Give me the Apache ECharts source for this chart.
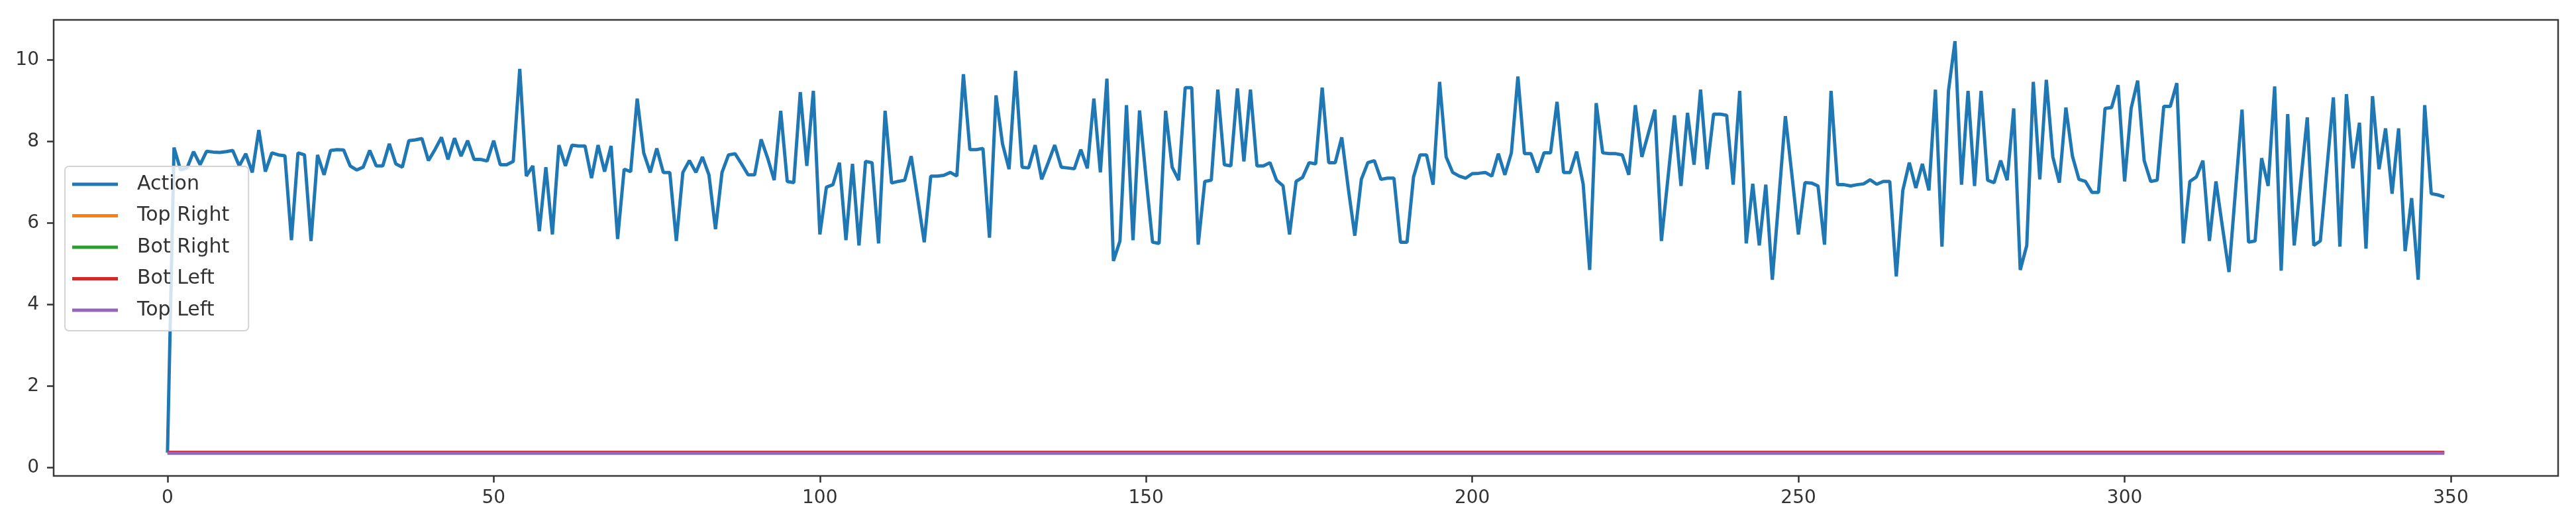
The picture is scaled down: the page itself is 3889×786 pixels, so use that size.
<!DOCTYPE html>
<html>
<head>
<meta charset="utf-8">
<script src="https://cdn.jsdelivr.net/npm/echarts@6/dist/echarts.min.js"></script>
<style>
  html, body { margin: 0; padding: 0; background: #ffffff; }
  #c { width: 3889px; height: 786px; }
</style>
</head>
<body>
<div id="c"></div>
<script>
// ---- data ----
const seriesNames = ['Action', 'Top Right', 'Bot Right', 'Bot Left', 'Top Left'];
const xTicks = [0, 50, 100, 150, 200, 250, 300, 350];
const yTicks = [0, 2, 4, 6, 8, 10];

const action = [
  0.37,7.85,7.3,7.35,7.75,7.43,7.76,7.74,7.73,7.75,
  7.78,7.40,7.70,7.24,8.28,7.26,7.72,7.67,7.65,5.58,
  7.72,7.67,5.56,7.67,7.18,7.78,7.80,7.79,7.40,7.30,
  7.37,7.78,7.40,7.40,7.94,7.45,7.37,8.02,8.04,8.07,
  7.53,7.80,8.10,7.56,8.08,7.64,8.02,7.56,7.56,7.52,
  8.02,7.43,7.43,7.51,9.78,7.15,7.40,5.80,7.37,5.72,
  7.91,7.40,7.91,7.89,7.89,7.10,7.91,7.26,7.89,5.61,
  7.32,7.26,9.05,7.72,7.24,7.83,7.24,7.24,5.56,7.24,
  7.53,7.24,7.62,7.18,5.85,7.24,7.67,7.70,7.45,7.18,
  7.18,8.05,7.59,7.05,8.75,7.02,6.99,9.21,7.40,9.24,
  5.72,6.88,6.94,7.48,5.58,7.45,5.45,7.51,7.48,5.50,
  8.75,6.98,7.02,7.05,7.64,6.60,5.53,7.15,7.15,7.17,
  7.24,7.15,9.65,7.80,7.80,7.83,5.64,9.13,7.94,7.32,
  9.73,7.37,7.35,7.91,7.07,7.48,7.91,7.37,7.35,7.33,
  7.80,7.34,9.05,7.24,9.54,5.07,5.56,8.89,5.58,8.76,
  7.10,5.53,5.50,8.75,7.37,7.05,9.32,9.32,5.47,7.02,
  7.05,9.27,7.43,7.40,9.30,7.51,9.27,7.40,7.40,7.48,
  7.05,6.91,5.72,7.02,7.12,7.48,7.45,9.32,7.48,7.48,
  8.10,6.85,5.69,7.07,7.48,7.53,7.07,7.10,7.10,5.53,
  5.53,7.13,7.67,7.67,6.94,9.46,7.62,7.24,7.15,7.10,
  7.21,7.22,7.24,7.15,7.70,7.18,7.72,9.59,7.70,7.70,
  7.24,7.72,7.72,8.97,7.24,7.24,7.75,6.96,4.85,8.94,
  7.72,7.70,7.70,7.67,7.18,8.89,7.62,8.20,8.78,5.56,
  7.10,8.64,6.91,8.70,7.43,9.27,7.32,8.67,8.67,8.64,
  6.94,9.24,5.50,6.96,5.45,6.94,4.61,6.60,8.62,7.18,
  5.72,6.99,6.98,6.91,5.47,9.24,6.94,6.94,6.91,6.94,
  6.96,7.06,6.95,7.02,7.02,4.69,6.80,7.48,6.86,7.45,
  6.80,9.27,5.42,9.24,10.46,6.94,9.24,6.91,9.24,7.05,
  6.99,7.53,7.05,8.81,4.85,5.45,9.46,7.07,9.51,7.62,
  6.99,8.83,7.64,7.07,7.02,6.75,6.75,8.81,8.83,9.38,
  7.02,8.81,9.49,7.53,7.02,7.05,8.86,8.86,9.43,5.50,
  7.02,7.13,7.53,5.56,7.02,5.90,4.80,6.80,8.78,5.53,
  5.56,7.59,6.91,9.35,4.83,8.67,5.45,7.02,8.59,5.45,
  5.56,7.32,9.08,5.42,9.16,7.34,8.46,5.37,9.11,7.32,
  8.32,6.72,8.32,5.31,6.61,4.61,8.89,6.72,6.69,6.64
];

// the four corner series are flat lines near 0.36; sampled at these steps
const flatSteps = [0, 50, 100, 150, 200, 250, 300, 349];
const topRight = [0.37, 0.37, 0.37, 0.37, 0.37, 0.37, 0.37, 0.37];
const botRight = [0.37, 0.37, 0.37, 0.37, 0.37, 0.37, 0.37, 0.37];
const botLeft  = [0.375, 0.375, 0.375, 0.375, 0.375, 0.375, 0.375, 0.375];
const topLeft  = [0.355, 0.355, 0.355, 0.355, 0.355, 0.355, 0.355, 0.355];

// ---- chart ----
const colors = ['#1f77b4', '#ff7f0e', '#2ca02c', '#d62728', '#9467bd'];
const axisColor = '#333333';
const font = 'DejaVu Sans';

const actionData = action.map((v, i) => [i, v]);
const pairs = arr => flatSteps.map((s, k) => [s, arr[k]]);
const allData = [actionData, pairs(topRight), pairs(botRight), pairs(botLeft), pairs(topLeft)];

const chart = echarts.init(document.getElementById('c'), null, { renderer: 'canvas' });
chart.setOption({
  animation: false,
  backgroundColor: '#ffffff',
  color: colors,
  grid: {
    left: 81, top: 30, right: 27, bottom: 68,
    show: true, borderColor: '#3a3a3a', borderWidth: 2.5, backgroundColor: 'transparent'
  },
  legend: {
    data: seriesNames,
    orient: 'vertical',
    left: 98, top: 251,
    icon: 'rect',
    itemWidth: 69, itemHeight: 5,
    itemGap: 17.5,
    padding: [12, 29, 16, 11],
    backgroundColor: 'rgba(255,255,255,0.8)',
    borderColor: '#d4d4d4', borderWidth: 2, borderRadius: 6,
    textStyle: { fontFamily: font, fontSize: 30, color: axisColor, lineHeight: 30, padding: [0, 0, 0, 24] }
  },
  xAxis: {
    type: 'value', min: -17.45, max: 366.45,
    axisLine: { show: false, onZero: false },
    splitLine: { show: false },
    axisTick: { show: true, customValues: xTicks, length: 10, lineStyle: { color: axisColor, width: 2.5 } },
    axisLabel: { customValues: xTicks, fontFamily: font, fontSize: 28, color: axisColor, margin: 20 }
  },
  yAxis: {
    type: 'value', min: -0.2, max: 10.98,
    axisLine: { show: false, onZero: false },
    splitLine: { show: false },
    axisTick: { show: true, customValues: yTicks, length: 10, lineStyle: { color: axisColor, width: 2.5 } },
    axisLabel: { customValues: yTicks, fontFamily: font, fontSize: 28, color: axisColor, margin: 22 }
  },
  series: seriesNames.map((name, k) => ({
    name: name,
    type: 'line',
    data: allData[k],
    showSymbol: false,
    symbol: 'none',
    lineStyle: { width: 5, color: colors[k] },
    itemStyle: { color: colors[k] },
    z: 2 + k
  }))
});
</script>
</body>
</html>
